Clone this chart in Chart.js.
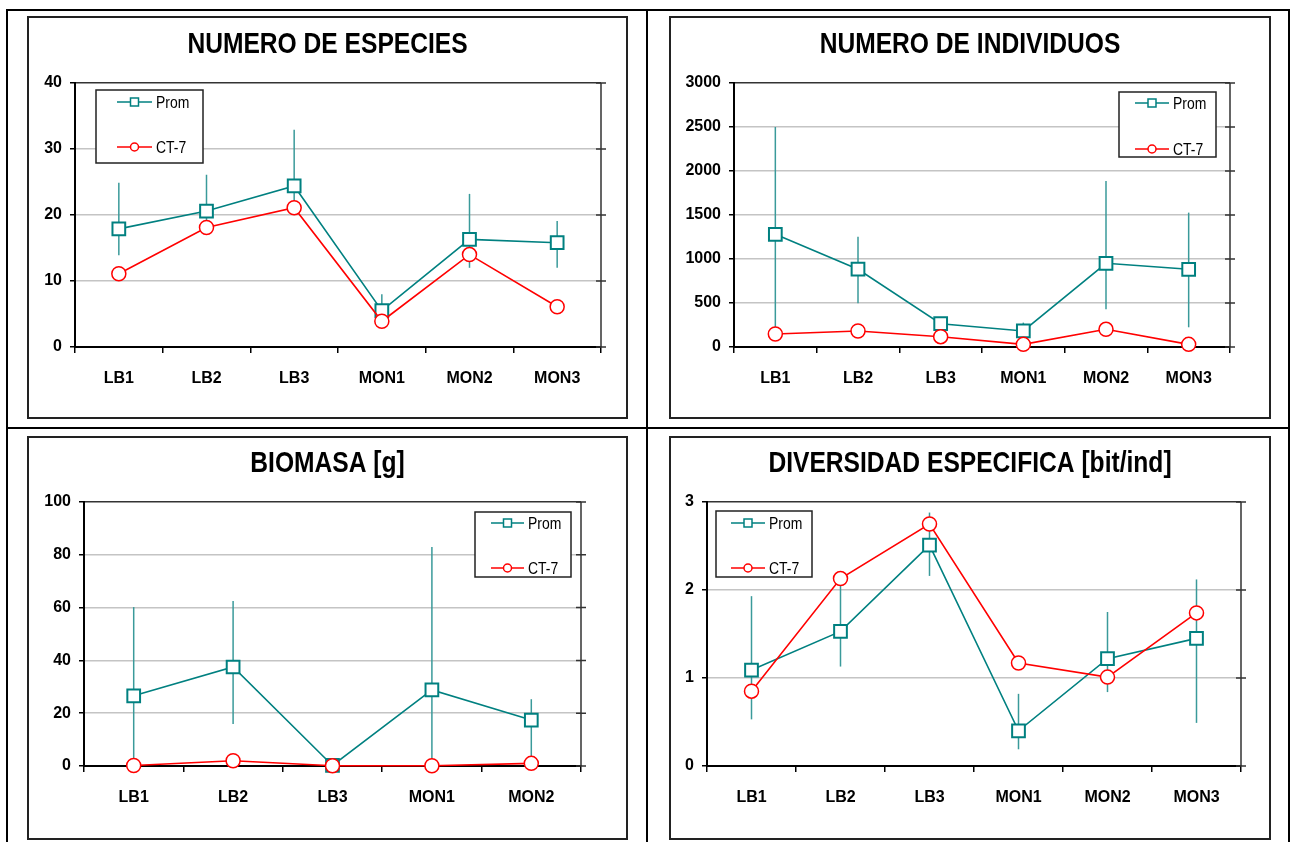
<!DOCTYPE html>
<html>
<head>
<meta charset="utf-8">
<script src="https://cdn.jsdelivr.net/npm/chart.js@4.4.1/dist/chart.umd.min.js"></script>
<style>
  html, body { margin: 0; padding: 0; background: #fff; }
  body { width: 1292px; height: 842px; position: relative; overflow: hidden; }
  .rule { position: absolute; background: #000; }
  canvas.panel { position: absolute; outline: 2px solid #222; }
</style>
</head>
<body>
<div class="rule" style="left:6px;top:9px;width:1284px;height:2px"></div>
<div class="rule" style="left:6px;top:427px;width:1284px;height:2px"></div>
<div class="rule" style="left:6px;top:9px;width:2px;height:840px"></div>
<div class="rule" style="left:646px;top:9px;width:2px;height:840px"></div>
<div class="rule" style="left:1288px;top:9px;width:2px;height:840px"></div>

<canvas class="panel" id="cEsp" width="597" height="399" style="left:29px;top:18px"></canvas>
<canvas class="panel" id="cInd" width="598" height="399" style="left:671px;top:18px"></canvas>
<canvas class="panel" id="cBio" width="597" height="400" style="left:29px;top:438px"></canvas>
<canvas class="panel" id="cDiv" width="598" height="400" style="left:671px;top:438px"></canvas>

<script>
(function () {
  "use strict";

  // ---- data ----
  const sites6 = ["LB1", "LB2", "LB3", "MON1", "MON2", "MON3"];
  const sites5 = ["LB1", "LB2", "LB3", "MON1", "MON2"];

  // numero de especies
  const espProm = [17.9, 20.6, 24.4, 5.5, 16.3, 15.8];
  const espLow = [13.9, 18.0, 21.5, 4.0, 12.0, 12.0];
  const espHigh = [24.9, 26.1, 32.9, 8.0, 23.2, 19.1];
  const espCT7 = [11.1, 18.1, 21.1, 3.9, 14.0, 6.1];
  const espTicks = [0, 10, 20, 30, 40];

  // numero de individuos
  const indProm = [1280, 884, 265, 182, 951, 883];
  const indLow = [200, 496, 220, 120, 428, 224];
  const indHigh = [2500, 1253, 320, 277, 1886, 1527];
  const indCT7 = [148, 182, 117, 30, 201, 30];
  const indTicks = [0, 500, 1000, 1500, 2000, 2500, 3000];

  // biomasa [g]
  const bioProm = [26.6, 37.5, 0.2, 28.8, 17.4];
  const bioLow = [0, 15.9, 0, 0, 1.0];
  const bioHigh = [60.2, 62.5, 0.5, 83, 25.3];
  const bioCT7 = [0.2, 2.0, 0.1, 0.1, 1.0];
  const bioTicks = [0, 20, 40, 60, 80, 100];

  // diversidad especifica [bit/ind]
  const divProm = [1.09, 1.53, 2.51, 0.40, 1.22, 1.45];
  const divLow = [0.53, 1.13, 2.16, 0.19, 0.84, 0.49];
  const divHigh = [1.93, 2.08, 2.88, 0.82, 1.75, 2.12];
  const divCT7 = [0.85, 2.13, 2.75, 1.17, 1.01, 1.74];
  const divTicks = [0, 1, 2, 3];

  const SANS = "'Liberation Sans', Arial, sans-serif";
  const TEAL = "#008080";
  const RED = "#ff0000";

  // no narrow face installed, so squeeze the text horizontally
  function narrowText(ctx, text, x, y, font, squeeze, align) {
    ctx.save();
    ctx.translate(x, y);
    ctx.scale(squeeze, 1);
    ctx.font = font;
    ctx.textAlign = align;
    ctx.textBaseline = "middle";
    ctx.fillText(text, 0, 0);
    ctx.restore();
  }

  const narrowTitle = {
    id: "narrowTitle",
    afterDraw(chart, args, o) {
      const ctx = chart.ctx;
      ctx.fillStyle = "#000";
      narrowText(ctx, o.text, chart.width / 2, o.y, "bold 30px " + SANS, 0.82, "center");
    }
  };

  // vertical min/max bars under the Prom markers
  const errorBars = {
    id: "errorBars",
    beforeDatasetsDraw(chart, args, o) {
      const { ctx, scales: { x, y } } = chart;
      ctx.save();
      ctx.strokeStyle = o.color;
      ctx.lineWidth = 1.5;
      o.low.forEach((lo, i) => {
        const px = x.getPixelForValue(i);
        ctx.beginPath();
        ctx.moveTo(px, y.getPixelForValue(lo));
        ctx.lineTo(px, y.getPixelForValue(o.high[i]));
        ctx.stroke();
      });
      ctx.restore();
    }
  };

  // right border of the plot with crossing ticks
  const rightAxis = {
    id: "rightAxis",
    beforeDatasetsDraw(chart) {
      const { ctx, chartArea: a, scales: { y } } = chart;
      ctx.save();
      ctx.strokeStyle = "#333";
      ctx.lineWidth = 1.5;
      ctx.beginPath();
      ctx.moveTo(a.right, a.top);
      ctx.lineTo(a.right, a.bottom);
      y.ticks.forEach(t => {
        const py = y.getPixelForValue(t.value);
        ctx.moveTo(a.right - 5, py);
        ctx.lineTo(a.right + 5, py);
      });
      ctx.stroke();
      ctx.restore();
    }
  };

  // framed legend sitting inside the plot
  const boxLegend = {
    id: "boxLegend",
    afterDraw(chart, args, o) {
      const ctx = chart.ctx;
      ctx.save();
      ctx.fillStyle = "#fff";
      ctx.fillRect(o.x, o.y, o.w, o.h);
      ctx.strokeStyle = "#222";
      ctx.lineWidth = 1.5;
      ctx.strokeRect(o.x, o.y, o.w, o.h);
      chart.data.datasets.forEach((ds, i) => {
        const ry = o.y + o.rows[i];
        const lx = o.x + o.lineX;
        const cx = lx + o.lineW / 2;
        ctx.strokeStyle = ds.borderColor;
        ctx.lineWidth = 1.5;
        ctx.beginPath();
        ctx.moveTo(lx, ry);
        ctx.lineTo(lx + o.lineW, ry);
        ctx.stroke();
        ctx.fillStyle = "#fff";
        ctx.beginPath();
        if (ds.pointStyle === "rect") ctx.rect(cx - 4, ry - 4, 8, 8);
        else ctx.arc(cx, ry, 4, 0, Math.PI * 2);
        ctx.fill();
        ctx.stroke();
        ctx.fillStyle = "#000";
        narrowText(ctx, ds.label, lx + o.lineW + 4, ry + 1, "17px " + SANS, 0.82, "left");
      });
      ctx.restore();
    }
  };

  function makeChart(id, opts) {
    const canvas = document.getElementById(id);
    const W = canvas.width, H = canvas.height;
    const area = opts.area; // [left, top, right, bottom] in canvas px
    const ticks = opts.ticks;
    const yMax = ticks[ticks.length - 1];

    return new Chart(canvas, {
      type: "line",
      data: {
        labels: opts.labels,
        datasets: [
          {
            label: "Prom", data: opts.prom, order: 1, clip: false,
            borderColor: TEAL, borderWidth: 1.6, tension: 0,
            pointStyle: "rect", pointRadius: 9, pointBorderWidth: 2,
            pointBackgroundColor: "#fff", pointBorderColor: TEAL
          },
          {
            label: "CT-7", data: opts.ct7, order: 0, clip: false,
            borderColor: RED, borderWidth: 1.6, tension: 0,
            pointStyle: "circle", pointRadius: 7, pointBorderWidth: 1.5,
            pointBackgroundColor: "#fff", pointBorderColor: RED
          }
        ]
      },
      options: {
        responsive: false,
        animation: false,
        devicePixelRatio: 1,
        events: [],
        layout: { autoPadding: false, padding: { left: 0, top: area[1], right: W - area[2], bottom: 0 } },
        plugins: {
          legend: { display: false },
          tooltip: { enabled: false },
          title: { display: false },
          narrowTitle: { text: opts.title, y: opts.titleY },
          errorBars: { low: opts.low, high: opts.high, color: "#3a9a9a" },
          boxLegend: opts.legend
        },
        scales: {
          x: {
            offset: true,
            grid: { display: true, drawOnChartArea: false, offset: true, tickLength: 6, tickColor: "#000", lineWidth: 1.5 },
            border: { color: "#000", width: 2 },
            ticks: { color: "#000", padding: 16, font: { family: SANS, size: 16, weight: "bold" } },
            afterFit(s) { s.height = H - area[3]; }
          },
          y: {
            min: 0, max: yMax,
            afterBuildTicks(s) { s.ticks = ticks.map(v => ({ value: v })); },
            grid: {
              color: c => (c.tick && c.tick.value === yMax ? "#333" : "#c4c4c4"),
              lineWidth: 1.5, tickLength: 5, tickColor: "#000"
            },
            border: { color: "#000", width: 2 },
            ticks: {
              color: "#000", padding: 8,
              font: { family: SANS, size: 16, weight: "bold" },
              callback: v => String(v)
            },
            afterFit(s) { s.width = area[0]; }
          }
        }
      },
      plugins: [errorBars, rightAxis, boxLegend, narrowTitle]
    });
  }

  makeChart("cEsp", {
    title: "NUMERO DE ESPECIES", titleY: 27, labels: sites6, ticks: espTicks,
    prom: espProm, ct7: espCT7, low: espLow, high: espHigh,
    area: [46, 65, 572, 329],
    legend: { x: 67, y: 72, w: 107, h: 73, rows: [12, 57], lineX: 21, lineW: 35 }
  });

  makeChart("cInd", {
    title: "NUMERO DE INDIVIDUOS", titleY: 27, labels: sites6, ticks: indTicks,
    prom: indProm, ct7: indCT7, low: indLow, high: indHigh,
    area: [63, 65, 559, 329],
    legend: { x: 448, y: 74, w: 97, h: 65, rows: [11, 57], lineX: 16, lineW: 34 }
  });

  makeChart("cBio", {
    title: "BIOMASA [g]", titleY: 26, labels: sites5, ticks: bioTicks,
    prom: bioProm, ct7: bioCT7, low: bioLow, high: bioHigh,
    area: [55, 64, 552, 328],
    legend: { x: 446, y: 74, w: 96, h: 65, rows: [11, 56], lineX: 16, lineW: 33 }
  });

  makeChart("cDiv", {
    title: "DIVERSIDAD ESPECIFICA [bit/ind]", titleY: 26, labels: sites6, ticks: divTicks,
    prom: divProm, ct7: divCT7, low: divLow, high: divHigh,
    area: [36, 64, 570, 328],
    legend: { x: 45, y: 73, w: 96, h: 66, rows: [12, 57], lineX: 15, lineW: 34 }
  });
})();
</script>
</body>
</html>
